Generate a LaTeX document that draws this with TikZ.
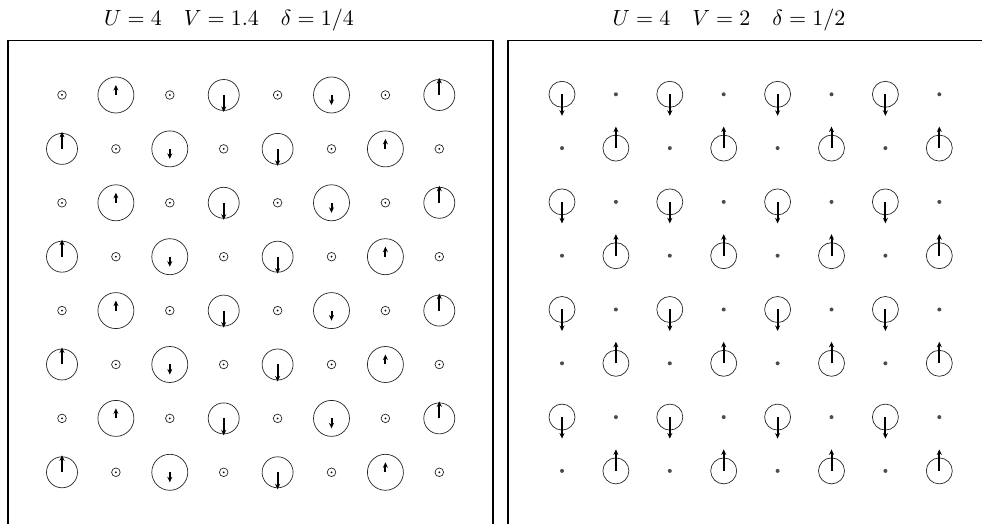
\documentclass[tikz,border=0pt]{standalone}
\usetikzlibrary{arrows.meta}
\tikzset{
  site/.style={circle, draw=black!85, line width=0.7pt, inner sep=0pt},
  bigsite/.style={site, minimum size=36pt},
  medsite/.style={site, minimum size=31pt},
  rsite/.style={site, minimum size=26pt},
  emptysite/.style={site, minimum size=8.6pt,
    path picture={\fill[black] (path picture bounding box.center) circle (1pt);}},
  hole/.style={circle, fill=black!70, inner sep=0pt, minimum size=4pt},
  spin/.style={line width=2pt, -{Stealth[length=5.5pt,width=5pt]}},
  frame/.style={line width=1.8pt},
  title/.style={scale=2.2, anchor=base}
}
\begin{document}
\begin{tikzpicture}[x=1pt,y=1pt]
\useasboundingbox (0,0) rectangle (982,524);
% frames
\draw[frame] (8,0) -- (8,483.5) -- (492.7,483.5) -- (492.7,0);
\draw[frame] (508,0) -- (508,483.5) -- (982,483.5);
% titles
\node[title] (T1) at (229,498.5) {$U=4\quad V=1.4\quad \delta=1/4$};
\node[title] (T2) at (729,498.5) {$U=4\quad V=2\quad \delta=1/2$};
% left panel
\foreach \r in {1,3,5,7} {
  \pgfmathsetmacro\yy{429-53.9*(\r-1)}
  \foreach \c in {1,3,5,7}
    \node[emptysite] (L-\r-\c) at ({62+53.9*(\c-1)},\yy) {};
  \foreach \c/\sty/\len in {2/bigsite/10, 4/medsite/-17, 6/bigsite/-10, 8/medsite/17} {
    \node[\sty] (L-\r-\c) at ({62+53.9*(\c-1)},\yy) {};
    \draw[spin] (L-\r-\c.center) -- ++(0,\len);
  }
}
\foreach \r in {2,4,6,8} {
  \pgfmathsetmacro\yy{429-53.9*(\r-1)}
  \foreach \c in {2,4,6,8}
    \node[emptysite] (L-\r-\c) at ({62+53.9*(\c-1)},\yy) {};
  \foreach \c/\sty/\len in {1/medsite/17, 3/bigsite/-10, 5/medsite/-17, 7/bigsite/10} {
    \node[\sty] (L-\r-\c) at ({62+53.9*(\c-1)},\yy) {};
    \draw[spin] (L-\r-\c.center) -- ++(0,\len);
  }
}
% right panel
\foreach \r in {1,3,5,7} {
  \pgfmathsetmacro\yy{429.7-53.8*(\r-1)}
  \foreach \c in {2,4,6,8}
    \node[hole] (R-\r-\c) at ({562+53.9*(\c-1)},\yy) {};
  \foreach \c in {1,3,5,7} {
    \node[rsite] (R-\r-\c) at ({562+53.9*(\c-1)},\yy) {};
    \draw[spin] (R-\r-\c.center) -- ++(0,-21.5);
  }
}
\foreach \r in {2,4,6,8} {
  \pgfmathsetmacro\yy{429.7-53.8*(\r-1)}
  \foreach \c in {1,3,5,7}
    \node[hole] (R-\r-\c) at ({562+53.9*(\c-1)},\yy) {};
  \foreach \c in {2,4,6,8} {
    \node[rsite] (R-\r-\c) at ({562+53.9*(\c-1)},\yy) {};
    \draw[spin] (R-\r-\c.center) -- ++(0,21.5);
  }
}
\end{tikzpicture}
\end{document}
